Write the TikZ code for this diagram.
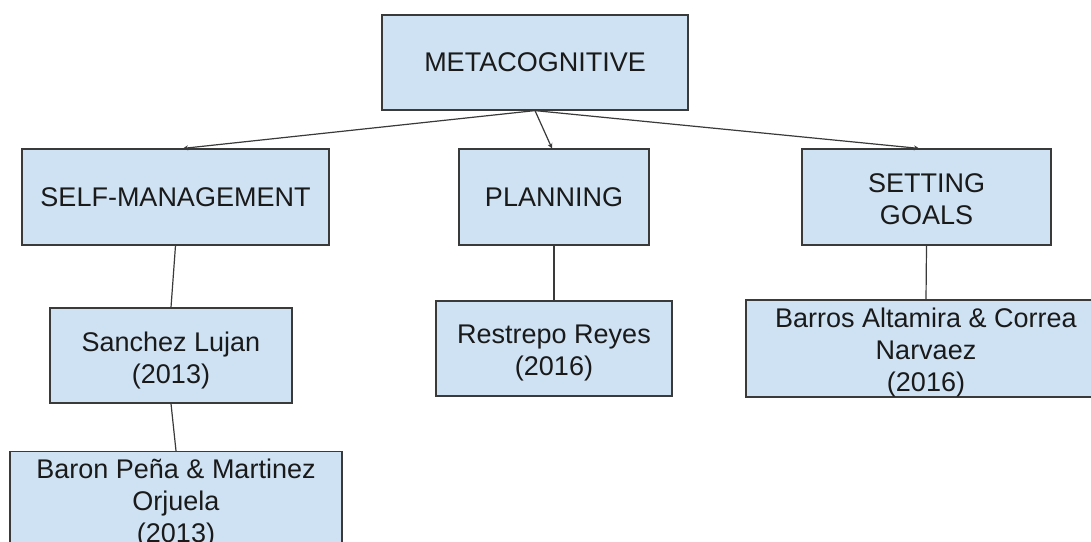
\documentclass[tikz,border=0pt]{standalone}
\usepackage{fontspec}
\setmainfont{Liberation Sans}
\usetikzlibrary{arrows.meta,calc}
\definecolor{boxfill}{HTML}{CFE2F3}
\definecolor{boxline}{HTML}{3A3A3A}
\definecolor{txt}{HTML}{1A1A1A}
\newcommand{\topstrut}[1]{\rule{0pt}{#1}}
\begin{document}
\begin{tikzpicture}[x=1pt,y=-1pt,
  box/.style={draw=boxline, fill=boxfill, line width=1.2pt, inner sep=0pt,
    align=center, text=txt, font=\fontsize{27}{32}\selectfont},
  link/.style={draw=boxline, line width=1.2pt},
  tipline/.style={link, -{Stealth[length=5pt,width=5pt]}}]
\useasboundingbox (0,0) rectangle (1091,541);
\fill[white] (0,0) rectangle (1091,541);
\begin{scope}
\clip (0,0) rectangle (1091,541);
\node[box, minimum width=306pt, minimum height=95pt] (meta) at (535,62.5) {METACOGNITIVE};
\node[box, minimum width=307pt, minimum height=96pt] (sm) at (175.5,197) {SELF-MANAGEMENT};
\node[box, minimum width=190pt, minimum height=96pt] (plan) at (554,197) {PLANNING};
\node[box, minimum width=249pt, minimum height=96pt] (sg) at (926.5,197) {\topstrut{23.5pt}SETTING\\GOALS};
\node[box, minimum width=242pt, minimum height=95pt] (sl) at (171,355.5) {\topstrut{29.5pt}Sanchez Lujan\\(2013)};
\node[box, minimum width=236pt, minimum height=95pt] (rr) at (554,348.5) {\topstrut{28.5pt}Restrepo Reyes\\(2016)};
\node[box, minimum width=360pt, minimum height=95pt] (ba) at (926,348.5) {\topstrut{27.5pt}Barros Altamira \& Correa\\Narvaez\\(2016)};
\node[box, minimum width=332pt, minimum height=96pt] (bp) at (176,500) {\topstrut{27.5pt}Baron Peña \& Martinez\\Orjuela\\(2013)};
\draw[tipline] (meta.south) -- ($(sm.north)+(7.5,0)$);
\draw[tipline] (meta.south) -- ($(plan.north)+(-2,0)$);
\draw[tipline] (meta.south) -- ($(sg.north)+(-7.5,0)$);
\draw[link] (sm.south) -- (sl.north);
\draw[link] (sl.south) -- (bp.north);
\draw[link] (plan.south) -- (rr.north);
\draw[link] (sg.south) -- (ba.north);
\end{scope}
\end{tikzpicture}
\end{document}
